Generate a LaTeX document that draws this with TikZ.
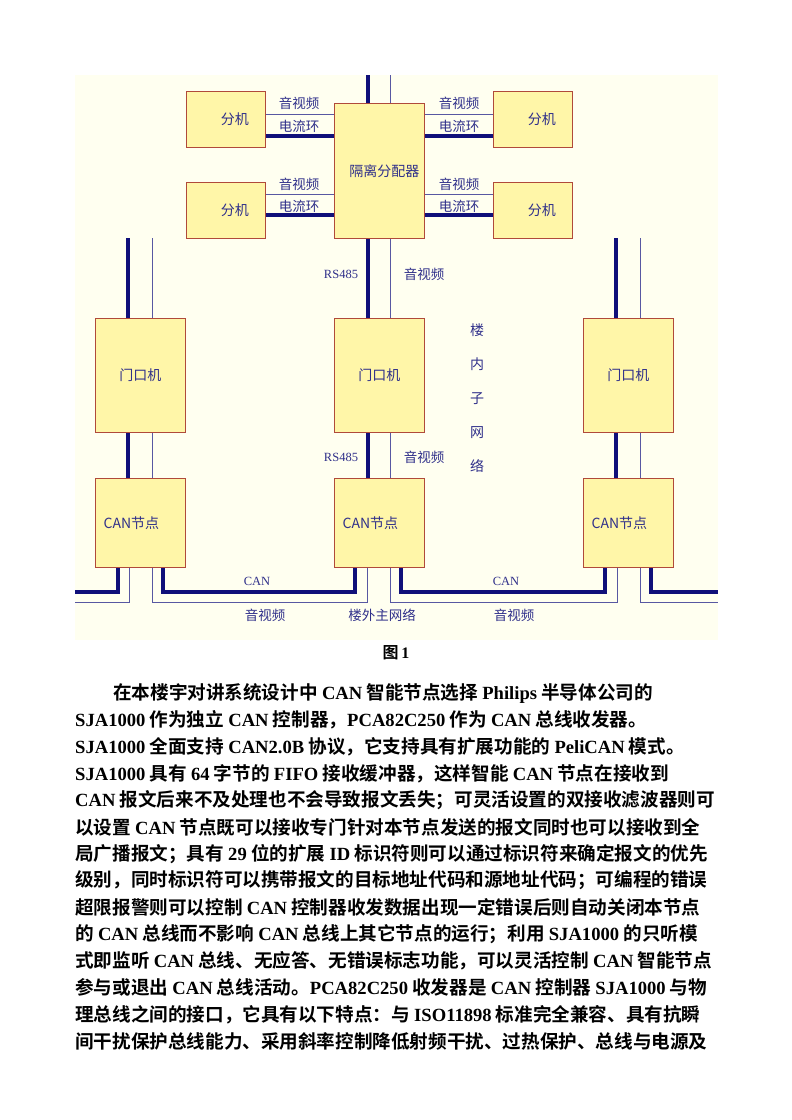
\documentclass[tikz,border=0pt]{standalone}
\usepackage{fontspec}
\setmainfont{Liberation Serif}
\newfontfamily\cjk{Noto Sans CJK SC}
\newfontfamily\cjkb{Noto Sans CJK SC Bold}
\newcommand{\Lt}[1]{{\fontspec{Liberation Serif}\bfseries #1}}
\definecolor{boxfill}{HTML}{FFF6A8}
\definecolor{boxline}{HTML}{B04A3A}
\definecolor{navy}{HTML}{10107A}
\definecolor{bg}{HTML}{FFFFF0}
\definecolor{txt}{HTML}{30308A}
\tikzset{
 box/.style={draw=boxline,fill=boxfill,line width=0.8pt,inner sep=0pt,anchor=north west,text=txt,font=\cjk\fontsize{14}{14}\selectfont},
 thick line/.style={draw=navy,line width=3.5pt},
 thin line/.style={draw=navy!70!white,line width=0.9pt},
 lab/.style={text=txt,font=\cjk\fontsize{13.5}{14}\selectfont,inner sep=0pt},
 latlab/.style={text=txt,font=\fontsize{12.5}{13}\selectfont,inner sep=0pt},
 para/.style={anchor=west,inner sep=0pt,font=\cjkb\fontsize{18.6}{19}\selectfont}
}
\begin{document}
\begin{tikzpicture}[x=1pt,y=-1pt]
\useasboundingbox (0,0) rectangle (792,1120);
\fill[bg] (75,75) rectangle (718,640);
\coordinate (t1) at (368,75); \coordinate (t2) at (390,75);
\draw[thin line] (265,114) -- (334,114); \draw[thick line] (265,136) -- (334,136);
\draw[thin line] (265,194) -- (334,194); \draw[thick line] (265,215) -- (334,215);
\draw[thin line] (424,114) -- (493,114); \draw[thick line] (424,136) -- (493,136);
\draw[thin line] (424,194) -- (493,194); \draw[thick line] (424,215) -- (493,215);
\draw[thick line] (368,75) -- (368,478); \draw[thin line] (390,75) -- (390,478);
\foreach \c in {140,628}{
 \draw[thick line] (\c-12,238) -- (\c-12,478);
 \draw[thin line] (\c+12,238) -- (\c+12,478);
}
\draw[thick line] (118,567) -- (118,592) -- (75,592);
\draw[thin line] (129,567) -- (129,602) -- (75,602);
\draw[thick line] (163,567) -- (163,592) -- (355,592) -- (355,567);
\draw[thin line] (152,567) -- (152,602) -- (367,602) -- (367,567);
\draw[thick line] (401,567) -- (401,592) -- (605,592) -- (605,567);
\draw[thin line] (390,567) -- (390,602) -- (617,602) -- (617,567);
\draw[thick line] (651,567) -- (651,592) -- (718,592);
\draw[thin line] (640,567) -- (640,602) -- (718,602);
\node[box,minimum width=79pt,minimum height=56pt] (f1) at (186,91) {\hspace*{18pt}分机};
\node[box,minimum width=79pt,minimum height=56pt] (f2) at (186,182) {\hspace*{18pt}分机};
\node[box,minimum width=79pt,minimum height=56pt] (f3) at (493,91) {\hspace*{18pt}分机};
\node[box,minimum width=79pt,minimum height=56pt] (f4) at (493,182) {\hspace*{18pt}分机};
\node[box,minimum width=90pt,minimum height=135pt] (iso) at (334,103) {\hspace*{10pt}隔离分配器};
\node[box,minimum width=90pt,minimum height=114pt] (m1) at (95,318) {门口机};
\node[box,minimum width=90pt,minimum height=114pt] (m2) at (334,318) {门口机};
\node[box,minimum width=90pt,minimum height=114pt] (m3) at (583,318) {门口机};
\node[box,minimum width=90pt,minimum height=89pt] (c1) at (95,478) {\hspace*{-18pt}CAN节点};
\node[box,minimum width=90pt,minimum height=89pt] (c2) at (334,478) {\hspace*{-18pt}CAN节点};
\node[box,minimum width=90pt,minimum height=89pt] (c3) at (583,478) {\hspace*{-18pt}CAN节点};
\foreach \x in {299,459}{
 \node[lab] at (\x,103) {音视频}; \node[lab] at (\x,126) {电流环};
 \node[lab] at (\x,184) {音视频}; \node[lab] at (\x,206) {电流环};
}
\node[latlab] at (341,274) {RS485}; \node[lab] at (424,274) {音视频};
\node[latlab] at (341,457) {RS485}; \node[lab] at (424,457) {音视频};
\node[lab,align=center,font=\cjk\fontsize{14}{34}\selectfont] at (477,398) {楼\\内\\子\\网\\络};
\node[latlab] at (257,581) {CAN}; \node[latlab] at (506,581) {CAN};
\node[lab] at (265,615) {音视频}; \node[lab] at (382,615) {楼外主网络}; \node[lab] at (514,615) {音视频};
\node[inner sep=0pt,font=\cjkb\fontsize{16}{16}\selectfont] (cap) at (396,653) {图\,\Lt{1}};
\foreach \t [count=\i] in {
 {\hspace*{38pt}在本楼宇对讲系统设计中 \Lt{CAN} 智能节点选择 \Lt{Philips} 半导体公司的},
 {\Lt{SJA1000} 作为独立 \Lt{CAN} 控制器，\Lt{PCA82C250} 作为 \Lt{CAN} 总线收发器。},
 {\Lt{SJA1000} 全面支持 \Lt{CAN2.0B} 协议，它支持具有扩展功能的 \Lt{PeliCAN} 模式。},
 {\Lt{SJA1000} 具有 \Lt{64} 字节的 \Lt{FIFO} 接收缓冲器，这样智能 \Lt{CAN} 节点在接收到},
 {\Lt{CAN} 报文后来不及处理也不会导致报文丢失；可灵活设置的双接收滤波器则可},
 {以设置 \Lt{CAN} 节点既可以接收专门针对本节点发送的报文同时也可以接收到全},
 {局广播报文；具有 \Lt{29} 位的扩展 \Lt{ID} 标识符则可以通过标识符来确定报文的优先},
 {级别，同时标识符可以携带报文的目标地址代码和源地址代码；可编程的错误},
 {超限报警则可以控制 \Lt{CAN} 控制器收发数据出现一定错误后则自动关闭本节点},
 {的 \Lt{CAN} 总线而不影响 \Lt{CAN} 总线上其它节点的运行；利用 \Lt{SJA1000} 的只听模},
 {式即监听 \Lt{CAN} 总线、无应答、无错误标志功能，可以灵活控制 \Lt{CAN} 智能节点},
 {参与或退出 \Lt{CAN} 总线活动。\Lt{PCA82C250} 收发器是 \Lt{CAN} 控制器 \Lt{SJA1000} 与物},
 {理总线之间的接口，它具有以下特点：与 \Lt{ISO11898} 标准完全兼容、具有抗瞬},
 {间干扰保护总线能力、采用斜率控制降低射频干扰、过热保护、总线与电源及}}
 \node[para] (p\i) at (75,{693+26.8*(\i-1)}) {\t};
\end{tikzpicture}
\end{document}
